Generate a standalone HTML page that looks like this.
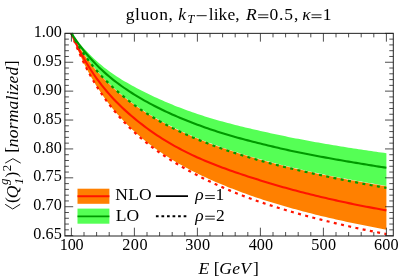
<!DOCTYPE html>
<html><head><meta charset="utf-8"><style>
html,body{margin:0;padding:0;background:#fff;}
svg{display:block;will-change:transform;font-family:"Liberation Serif",serif;}
</style></head><body>
<svg width="399" height="278" viewBox="0 0 399 278">
<rect width="399" height="278" fill="#fff"/>
<rect x="64.9" y="33.35" width="328.4" height="202.65" fill="none" stroke="#222" stroke-width="1"/>
<path d="M71.40 33.35 L73.92 36.63 L76.44 39.77 L78.96 42.77 L81.48 45.65 L84.00 48.43 L86.52 51.11 L89.04 53.70 L91.56 56.21 L94.08 58.63 L96.60 60.96 L99.12 63.20 L101.64 65.35 L104.16 67.40 L106.68 69.36 L109.20 71.24 L111.72 73.05 L114.24 74.78 L116.76 76.46 L119.28 78.07 L121.80 79.63 L124.32 81.15 L126.84 82.62 L129.36 84.05 L131.88 85.45 L134.40 86.82 L136.92 88.17 L139.44 89.49 L141.96 90.78 L144.48 92.05 L147.00 93.30 L149.52 94.52 L152.04 95.73 L154.56 96.91 L157.08 98.07 L159.60 99.20 L162.12 100.32 L164.64 101.42 L167.16 102.50 L169.68 103.56 L172.20 104.60 L174.72 105.63 L177.24 106.63 L179.76 107.61 L182.28 108.58 L184.80 109.53 L187.32 110.45 L189.84 111.36 L192.36 112.25 L194.88 113.12 L197.40 113.97 L199.92 114.80 L202.44 115.61 L204.96 116.41 L207.48 117.19 L210.00 117.96 L212.52 118.71 L215.04 119.44 L217.56 120.17 L220.08 120.88 L222.60 121.58 L225.12 122.26 L227.64 122.94 L230.16 123.60 L232.68 124.26 L235.20 124.90 L237.72 125.54 L240.24 126.16 L242.76 126.78 L245.28 127.40 L247.80 128.00 L250.32 128.60 L252.84 129.19 L255.36 129.77 L257.88 130.35 L260.40 130.93 L262.92 131.50 L265.44 132.06 L267.96 132.62 L270.48 133.17 L273.00 133.72 L275.52 134.26 L278.04 134.80 L280.56 135.33 L283.08 135.85 L285.60 136.37 L288.12 136.88 L290.64 137.39 L293.16 137.89 L295.68 138.38 L298.20 138.87 L300.72 139.35 L303.24 139.83 L305.76 140.30 L308.28 140.77 L310.80 141.23 L313.32 141.69 L315.84 142.14 L318.36 142.59 L320.88 143.03 L323.40 143.47 L325.92 143.91 L328.44 144.34 L330.96 144.76 L333.48 145.18 L336.00 145.60 L338.52 146.02 L341.04 146.43 L343.56 146.83 L346.08 147.23 L348.60 147.63 L351.12 148.03 L353.64 148.42 L356.16 148.81 L358.68 149.19 L361.20 149.57 L363.72 149.95 L366.24 150.32 L368.76 150.69 L371.28 151.06 L373.80 151.42 L376.32 151.78 L378.84 152.14 L381.36 152.49 L383.88 152.84 L386.40 153.19 L386.40 185.89 L383.88 185.48 L381.36 185.06 L378.84 184.64 L376.32 184.22 L373.80 183.79 L371.28 183.36 L368.76 182.93 L366.24 182.49 L363.72 182.05 L361.20 181.60 L358.68 181.15 L356.16 180.70 L353.64 180.24 L351.12 179.78 L348.60 179.31 L346.08 178.84 L343.56 178.36 L341.04 177.88 L338.52 177.39 L336.00 176.90 L333.48 176.40 L330.96 175.90 L328.44 175.39 L325.92 174.88 L323.40 174.36 L320.88 173.84 L318.36 173.31 L315.84 172.78 L313.32 172.24 L310.80 171.69 L308.28 171.14 L305.76 170.58 L303.24 170.01 L300.72 169.44 L298.20 168.87 L295.68 168.28 L293.16 167.69 L290.64 167.09 L288.12 166.49 L285.60 165.87 L283.08 165.25 L280.56 164.63 L278.04 163.99 L275.52 163.35 L273.00 162.70 L270.48 162.04 L267.96 161.37 L265.44 160.69 L262.92 160.01 L260.40 159.31 L257.88 158.61 L255.36 157.89 L252.84 157.17 L250.32 156.44 L247.80 155.69 L245.28 154.94 L242.76 154.17 L240.24 153.40 L237.72 152.61 L235.20 151.81 L232.68 151.00 L230.16 150.18 L227.64 149.34 L225.12 148.49 L222.60 147.63 L220.08 146.75 L217.56 145.86 L215.04 144.96 L212.52 144.04 L210.00 143.10 L207.48 142.15 L204.96 141.18 L202.44 140.20 L199.92 139.20 L197.40 138.18 L194.88 137.14 L192.36 136.08 L189.84 135.01 L187.32 133.91 L184.80 132.79 L182.28 131.65 L179.76 130.49 L177.24 129.30 L174.72 128.09 L172.20 126.86 L169.68 125.60 L167.16 124.31 L164.64 122.99 L162.12 121.64 L159.60 120.27 L157.08 118.86 L154.56 117.42 L152.04 115.94 L149.52 114.43 L147.00 112.88 L144.48 111.29 L141.96 109.67 L139.44 107.99 L136.92 106.28 L134.40 104.52 L131.88 102.70 L129.36 100.84 L126.84 98.92 L124.32 96.94 L121.80 94.91 L119.28 92.81 L116.76 90.64 L114.24 88.40 L111.72 86.09 L109.20 83.69 L106.68 81.21 L104.16 78.64 L101.64 75.98 L99.12 73.21 L96.60 70.33 L94.08 67.33 L91.56 64.21 L89.04 60.95 L86.52 57.54 L84.00 53.97 L81.48 50.23 L78.96 46.30 L76.44 42.17 L73.92 37.81 L71.40 33.20Z" fill="#55ff55"/>
<path d="M71.40 33.55 L73.92 38.16 L76.44 42.52 L78.96 46.65 L81.48 50.58 L84.00 54.32 L86.52 57.89 L89.04 61.30 L91.56 64.56 L94.08 67.68 L96.60 70.68 L99.12 73.56 L101.64 76.33 L104.16 78.99 L106.68 81.56 L109.20 84.04 L111.72 86.44 L114.24 88.75 L116.76 90.99 L119.28 93.16 L121.80 95.26 L124.32 97.29 L126.84 99.27 L129.36 101.19 L131.88 103.05 L134.40 104.87 L136.92 106.63 L139.44 108.34 L141.96 110.02 L144.48 111.64 L147.00 113.23 L149.52 114.78 L152.04 116.29 L154.56 117.77 L157.08 119.21 L159.60 120.62 L162.12 121.99 L164.64 123.34 L167.16 124.66 L169.68 125.95 L172.20 127.21 L174.72 128.44 L177.24 129.65 L179.76 130.84 L182.28 132.00 L184.80 133.14 L187.32 134.26 L189.84 135.36 L192.36 136.43 L194.88 137.49 L197.40 138.53 L199.92 139.55 L202.44 140.55 L204.96 141.53 L207.48 142.50 L210.00 143.45 L212.52 144.39 L215.04 145.31 L217.56 146.21 L220.08 147.10 L222.60 147.98 L225.12 148.84 L227.64 149.69 L230.16 150.53 L232.68 151.35 L235.20 152.16 L237.72 152.96 L240.24 153.75 L242.76 154.52 L245.28 155.29 L247.80 156.04 L250.32 156.79 L252.84 157.52 L255.36 158.24 L257.88 158.96 L260.40 159.66 L262.92 160.36 L265.44 161.04 L267.96 161.72 L270.48 162.39 L273.00 163.05 L275.52 163.70 L278.04 164.34 L280.56 164.98 L283.08 165.60 L285.60 166.22 L288.12 166.84 L290.64 167.44 L293.16 168.04 L295.68 168.63 L298.20 169.22 L300.72 169.79 L303.24 170.36 L305.76 170.93 L308.28 171.49 L310.80 172.04 L313.32 172.59 L315.84 173.13 L318.36 173.66 L320.88 174.19 L323.40 174.71 L325.92 175.23 L328.44 175.74 L330.96 176.25 L333.48 176.75 L336.00 177.25 L338.52 177.74 L341.04 178.23 L343.56 178.71 L346.08 179.19 L348.60 179.66 L351.12 180.13 L353.64 180.59 L356.16 181.05 L358.68 181.50 L361.20 181.95 L363.72 182.40 L366.24 182.84 L368.76 183.28 L371.28 183.71 L373.80 184.14 L376.32 184.57 L378.84 184.99 L381.36 185.41 L383.88 185.83 L386.40 186.24 L386.40 229.70 L383.88 229.23 L381.36 228.76 L378.84 228.28 L376.32 227.80 L373.80 227.31 L371.28 226.82 L368.76 226.33 L366.24 225.83 L363.72 225.32 L361.20 224.81 L358.68 224.30 L356.16 223.78 L353.64 223.25 L351.12 222.72 L348.60 222.19 L346.08 221.65 L343.56 221.10 L341.04 220.55 L338.52 219.99 L336.00 219.42 L333.48 218.85 L330.96 218.27 L328.44 217.69 L325.92 217.09 L323.40 216.49 L320.88 215.88 L318.36 215.26 L315.84 214.64 L313.32 214.00 L310.80 213.36 L308.28 212.71 L305.76 212.05 L303.24 211.39 L300.72 210.72 L298.20 210.04 L295.68 209.35 L293.16 208.65 L290.64 207.95 L288.12 207.24 L285.60 206.53 L283.08 205.80 L280.56 205.07 L278.04 204.32 L275.52 203.57 L273.00 202.81 L270.48 202.04 L267.96 201.25 L265.44 200.46 L262.92 199.65 L260.40 198.83 L257.88 197.99 L255.36 197.14 L252.84 196.28 L250.32 195.41 L247.80 194.51 L245.28 193.61 L242.76 192.69 L240.24 191.76 L237.72 190.81 L235.20 189.85 L232.68 188.87 L230.16 187.88 L227.64 186.88 L225.12 185.86 L222.60 184.83 L220.08 183.78 L217.56 182.72 L215.04 181.64 L212.52 180.54 L210.00 179.42 L207.48 178.28 L204.96 177.12 L202.44 175.94 L199.92 174.74 L197.40 173.51 L194.88 172.25 L192.36 170.97 L189.84 169.67 L187.32 168.33 L184.80 166.97 L182.28 165.57 L179.76 164.15 L177.24 162.69 L174.72 161.20 L172.20 159.67 L169.68 158.11 L167.16 156.51 L164.64 154.88 L162.12 153.20 L159.60 151.48 L157.08 149.72 L154.56 147.92 L152.04 146.06 L149.52 144.16 L147.00 142.20 L144.48 140.19 L141.96 138.12 L139.44 135.99 L136.92 133.79 L134.40 131.53 L131.88 129.20 L129.36 126.79 L126.84 124.30 L124.32 121.73 L121.80 119.07 L119.28 116.32 L116.76 113.47 L114.24 110.51 L111.72 107.44 L109.20 104.25 L106.68 100.93 L104.16 97.47 L101.64 93.87 L99.12 90.10 L96.60 86.17 L94.08 82.05 L91.56 77.73 L89.04 73.19 L86.52 68.42 L84.00 63.38 L81.48 58.07 L78.96 52.44 L76.44 46.47 L73.92 40.12 L71.40 33.35Z" fill="#ff8000"/>
<path d="M71.40 33.35 L73.92 39.02 L76.44 44.35 L78.96 49.40 L81.48 54.17 L84.00 58.70 L86.52 63.00 L89.04 67.10 L91.56 71.01 L94.08 74.75 L96.60 78.32 L99.12 81.74 L101.64 85.03 L104.16 88.18 L106.68 91.22 L109.20 94.14 L111.72 96.96 L114.24 99.67 L116.76 102.29 L119.28 104.81 L121.80 107.25 L124.32 109.61 L126.84 111.90 L129.36 114.12 L131.88 116.29 L134.40 118.40 L136.92 120.47 L139.44 122.48 L141.96 124.45 L144.48 126.37 L147.00 128.24 L149.52 130.07 L152.04 131.86 L154.56 133.60 L157.08 135.30 L159.60 136.96 L162.12 138.57 L164.64 140.15 L167.16 141.68 L169.68 143.18 L172.20 144.64 L174.72 146.06 L177.24 147.45 L179.76 148.80 L182.28 150.12 L184.80 151.41 L187.32 152.67 L189.84 153.90 L192.36 155.10 L194.88 156.27 L197.40 157.42 L199.92 158.54 L202.44 159.63 L204.96 160.70 L207.48 161.75 L210.00 162.78 L212.52 163.79 L215.04 164.78 L217.56 165.75 L220.08 166.71 L222.60 167.65 L225.12 168.58 L227.64 169.49 L230.16 170.39 L232.68 171.28 L235.20 172.16 L237.72 173.03 L240.24 173.88 L242.76 174.73 L245.28 175.57 L247.80 176.40 L250.32 177.21 L252.84 178.03 L255.36 178.83 L257.88 179.62 L260.40 180.41 L262.92 181.19 L265.44 181.96 L267.96 182.73 L270.48 183.49 L273.00 184.23 L275.52 184.98 L278.04 185.71 L280.56 186.43 L283.08 187.15 L285.60 187.86 L288.12 188.55 L290.64 189.24 L293.16 189.92 L295.68 190.60 L298.20 191.26 L300.72 191.91 L303.24 192.56 L305.76 193.20 L308.28 193.83 L310.80 194.46 L313.32 195.08 L315.84 195.69 L318.36 196.30 L320.88 196.90 L323.40 197.49 L325.92 198.08 L328.44 198.67 L330.96 199.25 L333.48 199.82 L336.00 200.38 L338.52 200.94 L341.04 201.50 L343.56 202.05 L346.08 202.59 L348.60 203.12 L351.12 203.65 L353.64 204.17 L356.16 204.68 L358.68 205.19 L361.20 205.69 L363.72 206.18 L366.24 206.67 L368.76 207.15 L371.28 207.63 L373.80 208.10 L376.32 208.56 L378.84 209.02 L381.36 209.48 L383.88 209.93 L386.40 210.38" fill="none" stroke="#ff1400" stroke-width="2.1"/>
<path d="M71.40 33.35 L73.92 40.05 L76.44 46.34 L78.96 52.28 L81.48 57.88 L84.00 63.19 L86.52 68.23 L89.04 73.02 L91.56 77.58 L94.08 81.93 L96.60 86.08 L99.12 90.06 L101.64 93.86 L104.16 97.51 L106.68 101.02 L109.20 104.39 L111.72 107.63 L114.24 110.76 L116.76 113.77 L119.28 116.69 L121.80 119.50 L124.32 122.22 L126.84 124.85 L129.36 127.40 L131.88 129.86 L134.40 132.25 L136.92 134.56 L139.44 136.79 L141.96 138.96 L144.48 141.06 L147.00 143.11 L149.52 145.10 L152.04 147.03 L154.56 148.92 L157.08 150.76 L159.60 152.55 L162.12 154.30 L164.64 156.01 L167.16 157.69 L169.68 159.32 L172.20 160.92 L174.72 162.49 L177.24 164.03 L179.76 165.54 L182.28 167.02 L184.80 168.47 L187.32 169.89 L189.84 171.28 L192.36 172.66 L194.88 174.00 L197.40 175.33 L199.92 176.63 L202.44 177.90 L204.96 179.16 L207.48 180.40 L210.00 181.61 L212.52 182.81 L215.04 183.98 L217.56 185.13 L220.08 186.27 L222.60 187.38 L225.12 188.48 L227.64 189.56 L230.16 190.62 L232.68 191.66 L235.20 192.68 L237.72 193.69 L240.24 194.68 L242.76 195.66 L245.28 196.62 L247.80 197.56 L250.32 198.49 L252.84 199.40 L255.36 200.30 L257.88 201.18 L260.40 202.05 L262.92 202.91 L265.44 203.75 L267.96 204.58 L270.48 205.39 L273.00 206.20 L275.52 206.99 L278.04 207.77 L280.56 208.54 L283.08 209.30 L285.60 210.05 L288.12 210.79 L290.64 211.52 L293.16 212.24 L295.68 212.95 L298.20 213.66 L300.72 214.35 L303.24 215.04 L305.76 215.72 L308.28 216.39 L310.80 217.05 L313.32 217.71 L315.84 218.36 L318.36 219.01 L320.88 219.65 L323.40 220.28 L325.92 220.91 L328.44 221.53 L330.96 222.14 L333.48 222.75 L336.00 223.35 L338.52 223.95 L341.04 224.54 L343.56 225.12 L346.08 225.70 L348.60 226.27 L351.12 226.84 L353.64 227.39 L356.16 227.95 L358.68 228.49 L361.20 229.03 L363.72 229.56 L366.24 230.08 L368.76 230.60 L371.28 231.12 L373.80 231.62 L376.32 232.13 L378.84 232.63 L381.36 233.12 L383.88 233.61 L386.40 234.09" fill="none" stroke="#ff1400" stroke-width="2.2" stroke-dasharray="3.000 4.386"/>
<path d="M71.40 33.35 L73.92 37.18 L76.44 40.81 L78.96 44.29 L81.48 47.60 L84.00 50.78 L86.52 53.82 L89.04 56.75 L91.56 59.57 L94.08 62.27 L96.60 64.88 L99.12 67.39 L101.64 69.80 L104.16 72.12 L106.68 74.36 L109.20 76.51 L111.72 78.59 L114.24 80.60 L116.76 82.54 L119.28 84.42 L121.80 86.24 L124.32 88.00 L126.84 89.71 L129.36 91.38 L131.88 93.00 L134.40 94.58 L136.92 96.12 L139.44 97.63 L141.96 99.10 L144.48 100.54 L147.00 101.94 L149.52 103.32 L152.04 104.66 L154.56 105.97 L157.08 107.26 L159.60 108.52 L162.12 109.75 L164.64 110.95 L167.16 112.13 L169.68 113.29 L172.20 114.42 L174.72 115.53 L177.24 116.62 L179.76 117.69 L182.28 118.74 L184.80 119.77 L187.32 120.79 L189.84 121.78 L192.36 122.76 L194.88 123.72 L197.40 124.67 L199.92 125.60 L202.44 126.52 L204.96 127.42 L207.48 128.31 L210.00 129.18 L212.52 130.03 L215.04 130.87 L217.56 131.69 L220.08 132.50 L222.60 133.29 L225.12 134.06 L227.64 134.82 L230.16 135.56 L232.68 136.28 L235.20 136.99 L237.72 137.69 L240.24 138.37 L242.76 139.05 L245.28 139.71 L247.80 140.37 L250.32 141.02 L252.84 141.66 L255.36 142.30 L257.88 142.93 L260.40 143.56 L262.92 144.18 L265.44 144.80 L267.96 145.42 L270.48 146.03 L273.00 146.64 L275.52 147.24 L278.04 147.83 L280.56 148.41 L283.08 148.99 L285.60 149.56 L288.12 150.12 L290.64 150.67 L293.16 151.21 L295.68 151.75 L298.20 152.27 L300.72 152.79 L303.24 153.29 L305.76 153.80 L308.28 154.29 L310.80 154.78 L313.32 155.26 L315.84 155.74 L318.36 156.21 L320.88 156.68 L323.40 157.15 L325.92 157.61 L328.44 158.07 L330.96 158.52 L333.48 158.97 L336.00 159.42 L338.52 159.86 L341.04 160.30 L343.56 160.74 L346.08 161.18 L348.60 161.61 L351.12 162.04 L353.64 162.47 L356.16 162.90 L358.68 163.32 L361.20 163.74 L363.72 164.16 L366.24 164.57 L368.76 164.99 L371.28 165.40 L373.80 165.81 L376.32 166.21 L378.84 166.61 L381.36 167.01 L383.88 167.41 L386.40 167.80" fill="none" stroke="#009900" stroke-width="2.1"/>
<path d="M71.40 33.35 L73.92 37.95 L76.44 42.31 L78.96 46.45 L81.48 50.38 L84.00 54.12 L86.52 57.69 L89.04 61.10 L91.56 64.37 L94.08 67.50 L96.60 70.50 L99.12 73.37 L101.64 76.13 L104.16 78.79 L106.68 81.34 L109.20 83.81 L111.72 86.19 L114.24 88.51 L116.76 90.77 L119.28 92.97 L121.80 95.12 L124.32 97.22 L126.84 99.26 L129.36 101.25 L131.88 103.19 L134.40 105.07 L136.92 106.89 L139.44 108.65 L141.96 110.37 L144.48 112.04 L147.00 113.66 L149.52 115.24 L152.04 116.77 L154.56 118.28 L157.08 119.74 L159.60 121.17 L162.12 122.57 L164.64 123.93 L167.16 125.27 L169.68 126.58 L172.20 127.86 L174.72 129.11 L177.24 130.34 L179.76 131.54 L182.28 132.72 L184.80 133.88 L187.32 135.01 L189.84 136.12 L192.36 137.21 L194.88 138.28 L197.40 139.33 L199.92 140.36 L202.44 141.37 L204.96 142.36 L207.48 143.34 L210.00 144.30 L212.52 145.24 L215.04 146.17 L217.56 147.08 L220.08 147.97 L222.60 148.86 L225.12 149.73 L227.64 150.59 L230.16 151.43 L232.68 152.26 L235.20 153.08 L237.72 153.89 L240.24 154.69 L242.76 155.47 L245.28 156.25 L247.80 157.01 L250.32 157.76 L252.84 158.50 L255.36 159.23 L257.88 159.95 L260.40 160.66 L262.92 161.36 L265.44 162.05 L267.96 162.73 L270.48 163.40 L273.00 164.06 L275.52 164.71 L278.04 165.36 L280.56 165.99 L283.08 166.62 L285.60 167.23 L288.12 167.84 L290.64 168.44 L293.16 169.04 L295.68 169.62 L298.20 170.20 L300.72 170.78 L303.24 171.34 L305.76 171.90 L308.28 172.46 L310.80 173.01 L313.32 173.56 L315.84 174.10 L318.36 174.64 L320.88 175.18 L323.40 175.71 L325.92 176.24 L328.44 176.77 L330.96 177.30 L333.48 177.82 L336.00 178.34 L338.52 178.85 L341.04 179.37 L343.56 179.88 L346.08 180.38 L348.60 180.88 L351.12 181.38 L353.64 181.87 L356.16 182.36 L358.68 182.85 L361.20 183.33 L363.72 183.81 L366.24 184.28 L368.76 184.76 L371.28 185.22 L373.80 185.68 L376.32 186.14 L378.84 186.60 L381.36 187.05 L383.88 187.49 L386.40 187.94" fill="none" stroke="#009900" stroke-width="2.2" stroke-dasharray="3.000 4.376"/>
<path d="M71.40 236.00v-8.30M71.40 33.35v8.30M84.00 236.00v-4.00M84.00 33.35v4.00M96.60 236.00v-4.00M96.60 33.35v4.00M109.20 236.00v-4.00M109.20 33.35v4.00M121.80 236.00v-4.00M121.80 33.35v4.00M134.40 236.00v-8.30M134.40 33.35v8.30M147.00 236.00v-4.00M147.00 33.35v4.00M159.60 236.00v-4.00M159.60 33.35v4.00M172.20 236.00v-4.00M172.20 33.35v4.00M184.80 236.00v-4.00M184.80 33.35v4.00M197.40 236.00v-8.30M197.40 33.35v8.30M210.00 236.00v-4.00M210.00 33.35v4.00M222.60 236.00v-4.00M222.60 33.35v4.00M235.20 236.00v-4.00M235.20 33.35v4.00M247.80 236.00v-4.00M247.80 33.35v4.00M260.40 236.00v-8.30M260.40 33.35v8.30M273.00 236.00v-4.00M273.00 33.35v4.00M285.60 236.00v-4.00M285.60 33.35v4.00M298.20 236.00v-4.00M298.20 33.35v4.00M310.80 236.00v-4.00M310.80 33.35v4.00M323.40 236.00v-8.30M323.40 33.35v8.30M336.00 236.00v-4.00M336.00 33.35v4.00M348.60 236.00v-4.00M348.60 33.35v4.00M361.20 236.00v-4.00M361.20 33.35v4.00M373.80 236.00v-4.00M373.80 33.35v4.00M386.40 236.00v-8.30M386.40 33.35v8.30M64.90 33.35h8.30M393.30 33.35h-8.30M64.90 39.13h4.00M393.30 39.13h-4.00M64.90 44.91h4.00M393.30 44.91h-4.00M64.90 50.69h4.00M393.30 50.69h-4.00M64.90 56.47h4.00M393.30 56.47h-4.00M64.90 62.25h8.30M393.30 62.25h-8.30M64.90 68.02h4.00M393.30 68.02h-4.00M64.90 73.80h4.00M393.30 73.80h-4.00M64.90 79.58h4.00M393.30 79.58h-4.00M64.90 85.36h4.00M393.30 85.36h-4.00M64.90 91.14h8.30M393.30 91.14h-8.30M64.90 96.92h4.00M393.30 96.92h-4.00M64.90 102.70h4.00M393.30 102.70h-4.00M64.90 108.48h4.00M393.30 108.48h-4.00M64.90 114.26h4.00M393.30 114.26h-4.00M64.90 120.04h8.30M393.30 120.04h-8.30M64.90 125.81h4.00M393.30 125.81h-4.00M64.90 131.59h4.00M393.30 131.59h-4.00M64.90 137.37h4.00M393.30 137.37h-4.00M64.90 143.15h4.00M393.30 143.15h-4.00M64.90 148.93h8.30M393.30 148.93h-8.30M64.90 154.71h4.00M393.30 154.71h-4.00M64.90 160.49h4.00M393.30 160.49h-4.00M64.90 166.27h4.00M393.30 166.27h-4.00M64.90 172.05h4.00M393.30 172.05h-4.00M64.90 177.82h8.30M393.30 177.82h-8.30M64.90 183.60h4.00M393.30 183.60h-4.00M64.90 189.38h4.00M393.30 189.38h-4.00M64.90 195.16h4.00M393.30 195.16h-4.00M64.90 200.94h4.00M393.30 200.94h-4.00M64.90 206.72h8.30M393.30 206.72h-8.30M64.90 212.50h4.00M393.30 212.50h-4.00M64.90 218.28h4.00M393.30 218.28h-4.00M64.90 224.06h4.00M393.30 224.06h-4.00M64.90 229.84h4.00M393.30 229.84h-4.00M64.90 235.62h8.30M393.30 235.62h-8.30" stroke="#222" stroke-width="0.8" fill="none"/>
<g font-size="17.5" fill="#000">
<text x="125.65" y="19.50" letter-spacing="0.601">gluon,</text>
<text x="178.16" y="19.50" font-style="italic">k</text>
<text x="187.50" y="22.90" font-size="12.2" font-style="italic">T</text>
<text x="208.73" y="19.50" letter-spacing="0.063">like,</text>
<text x="246.00" y="19.50" font-style="italic">R</text>
<text x="269.45" y="19.50" letter-spacing="0.864">0.5,</text>
<text x="302.15" y="19.50" font-style="italic">κ</text>
<text x="322.85" y="19.50">1</text>
<text x="59.83" y="250.40" font-size="16.2" letter-spacing="-0.264">100</text>
<text x="122.29" y="250.40" font-size="16.2" letter-spacing="0.456">200</text>
<text x="185.14" y="250.40" font-size="16.2" letter-spacing="0.383">300</text>
<text x="248.65" y="250.40" font-size="16.2" letter-spacing="0.130">400</text>
<text x="311.14" y="250.40" font-size="16.2" letter-spacing="0.283">500</text>
<text x="374.09" y="250.40" font-size="16.2" letter-spacing="0.056">600</text>
<text x="33.73" y="36.95" font-size="16.2" letter-spacing="-0.059">1.00</text>
<text x="33.29" y="65.85" font-size="16.2" letter-spacing="0.088">0.95</text>
<text x="33.29" y="94.74" font-size="16.2" letter-spacing="0.088">0.90</text>
<text x="33.29" y="123.64" font-size="16.2" letter-spacing="0.088">0.85</text>
<text x="33.29" y="152.53" font-size="16.2" letter-spacing="0.088">0.80</text>
<text x="33.29" y="181.42" font-size="16.2" letter-spacing="0.088">0.75</text>
<text x="33.29" y="210.32" font-size="16.2" letter-spacing="0.088">0.70</text>
<text x="33.29" y="239.22" font-size="16.2" letter-spacing="0.088">0.65</text>
<text x="198.60" y="273.70" font-style="italic">E</text>
<text x="213.81" y="273.70">[</text>
<text x="219.28" y="273.70" font-style="italic" letter-spacing="0.318">GeV</text>
<text x="252.95" y="273.70">]</text>
<text x="115.33" y="200.40" letter-spacing="0.207">NLO</text>
<text x="115.63" y="220.80" letter-spacing="0.152">LO</text>
<text x="195.36" y="200.30" font-style="italic">ρ</text>
<text x="215.40" y="200.30">1</text>
<text x="195.36" y="220.90" font-style="italic">ρ</text>
<text x="216.06" y="220.90">2</text>
<g transform="rotate(-90)">
<text x="-203.11" y="17.00">(</text>
<text x="-198.35" y="17.50" font-style="italic">Q</text>
<text x="-185.05" y="7.90" font-size="13.0" font-style="italic">g</text>
<text x="-184.49" y="23.20" font-size="13.0" font-style="italic">1</text>
<text x="-177.47" y="17.00">)</text>
<text x="-171.20" y="10.60" font-size="13.0">2</text>
<text x="-152.74" y="17.00">[</text>
<text x="-147.15" y="17.50" font-style="italic" letter-spacing="0.169">normalized</text>
<text x="-66.15" y="17.00">]</text>
</g>
</g>
<path d="M196.60 15.70H206.70M258.10 14.85H268.30M258.10 17.65H268.30M311.50 14.85H321.50M311.50 17.65H321.50M205.20 195.65H214.80M205.20 198.45H214.80M205.20 216.25H214.80M205.20 219.05H214.80" fill="none" stroke="#000" stroke-width="0.9"/>
<path d="M5.2 204.3L12.7 209L20.2 204.3M5.2 163.1L12.9 158.7L20.7 163.1" fill="none" stroke="#000" stroke-width="0.9"/>
<!-- legend -->
<rect x="77.5" y="188.7" width="31.9" height="15.1" fill="#ff8000"/>
<path d="M77.5 196.25H109.4" stroke="#ff1400" stroke-width="1.9"/>
<rect x="77.5" y="208.6" width="31.9" height="15.1" fill="#55ff55"/>
<path d="M77.5 216.4H109.4" stroke="#009900" stroke-width="1.9"/>
<path d="M155.9 196.15H188" stroke="#000" stroke-width="1.6"/>
<path d="M155.9 216.2H188.5" stroke="#000" stroke-width="1.85" stroke-dasharray="2.7 2.85"/>
</svg>
</body></html>
